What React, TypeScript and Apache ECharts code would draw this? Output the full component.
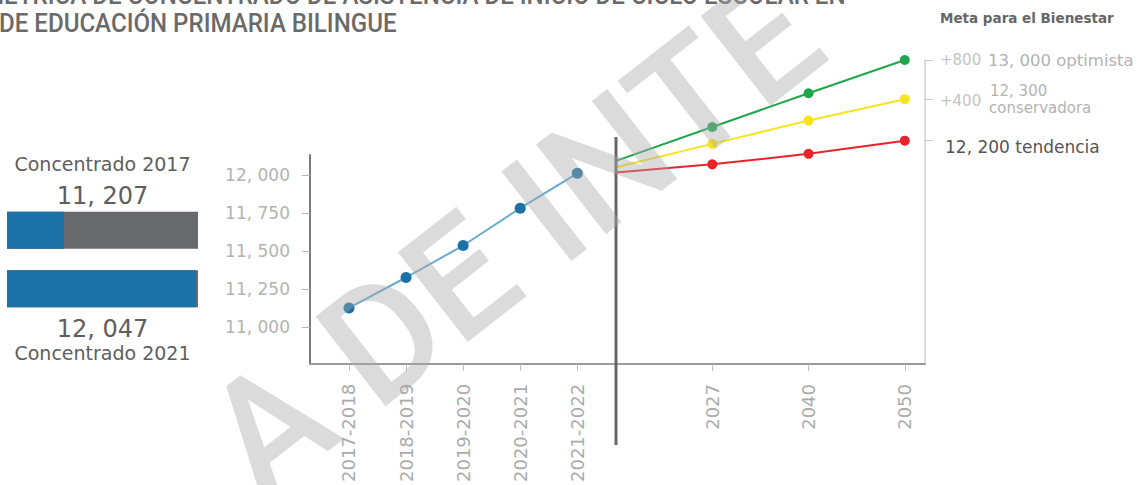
import React, { useEffect, useRef } from "react";
import * as echarts from "echarts";

// ---------- data ----------
const titleLines = [
  "MÉTRICA DE CONCENTRADO DE ASISTENCIA DE INICIO DE CICLO ESCOLAR EN",
  "DE EDUCACIÓN PRIMARIA BILINGUE",
];
const headerText = "Meta para el Bienestar";
const watermarkText = "A DE INTE";

const histCategories = ["2017-2018", "2018-2019", "2019-2020", "2020-2021", "2021-2022"];
const histValues = [11127, 11327, 11537, 11782, 12011];

// index 0 = start at the divider, then 2027, 2040, 2050
const projCategories = ["", "2027", "2040", "2050"];
const optimista = [12092, 12314, 12535, 12753];
const conservadora = [12050, 12203, 12356, 12496];
const tendencia = [12015, 12069, 12138, 12224];

const yTicks = [11000, 11250, 11500, 11750, 12000];

const concentradoLabels = ["Concentrado 2017", "Concentrado 2021"];
const concentradoValues = [11207, 12047];

const metaDeltas = ["+800", "+400", ""];
const metaValues = ["13, 000", "12, 300", "12, 200"];
const metaNames = ["optimista", "conservadora", "tendencia"];

// ---------- helpers ----------
const fmt = (n: number) => n.toLocaleString("en-US").replace(/,/g, ", ");
const FONT = "DejaVu Sans";
const BLUE = "#1a72a6";
const GREEN = "#1fa64c";
const YELLOW = "#f7e51c";
const RED = "#e8232c";

const projLine = (name: string, arr: number[], color: string) => ({
  name,
  type: "line",
  xAxisIndex: 1,
  yAxisIndex: 1,
  data: arr.map((v, i) => (i === 0 ? { value: [0, v], symbol: "none" } : { value: [i, v] })),
  symbol: "circle",
  symbolSize: 10,
  lineStyle: { color, width: 2 },
  itemStyle: { color },
  z: 3,
});

export default function App() {
  const ref = useRef<HTMLDivElement>(null);

  useEffect(() => {
    if (!ref.current) return;
    const chart = echarts.init(ref.current, undefined, { renderer: "svg" });

    const xLabel = {
      rotate: 90,
      margin: 20,
      color: "#ababab",
      fontSize: 18,
      fontFamily: FONT,
    };

    const option: any = {
      animation: false,
      backgroundColor: "#ffffff",
      grid: [
        { left: 310, top: 155, width: 306, height: 209 },
        { left: 616, top: 60, width: 309, height: 304 },
        { left: 7, top: 201, width: 191, height: 117 },
      ],
      xAxis: [
        {
          type: "value",
          gridIndex: 0,
          min: -0.683,
          max: 4.678,
          splitLine: { show: false },
          axisLine: { show: true, onZero: false, lineStyle: { color: "#9a9a9a", width: 2 } },
          axisTick: { show: true, customValues: [0, 1, 2, 3, 4], length: 7, lineStyle: { color: "#bdbdbd" } },
          axisLabel: {
            ...xLabel,
            customValues: [0, 1, 2, 3, 4],
            formatter: (v: number) => histCategories[Math.round(v)],
          },
        },
        {
          type: "value",
          gridIndex: 1,
          min: 0,
          max: 3.21,
          splitLine: { show: false },
          axisLine: { show: true, onZero: false, lineStyle: { color: "#9a9a9a", width: 2 } },
          axisTick: { show: true, customValues: [1, 2, 3], length: 7, lineStyle: { color: "#bdbdbd" } },
          axisLabel: {
            ...xLabel,
            customValues: [1, 2, 3],
            formatter: (v: number) => projCategories[Math.round(v)],
          },
        },
        { type: "value", gridIndex: 2, min: 10845, max: 12060, show: false },
      ],
      yAxis: [
        {
          type: "value",
          gridIndex: 0,
          min: 10760,
          max: 12131,
          splitLine: { show: false },
          axisLine: { show: true, onZero: false, lineStyle: { color: "#7a7a7a", width: 2 } },
          axisTick: { show: true, customValues: yTicks, length: 8, lineStyle: { color: "#b5b5b5" } },
          axisLabel: {
            customValues: yTicks,
            formatter: (v: number) => fmt(v),
            color: "#b3b3b3",
            fontSize: 17,
            fontFamily: FONT,
            margin: 20,
          },
        },
        {
          type: "value",
          gridIndex: 1,
          min: 10760,
          max: 12753,
          position: "right",
          splitLine: { show: false },
          axisLine: { show: true, onZero: false, lineStyle: { color: "#d0d0d0", width: 1.5 } },
          axisTick: {
            show: true,
            customValues: [optimista[3], conservadora[3], tendencia[3]],
            length: 8,
            lineStyle: { color: "#c8c8c8" },
          },
          axisLabel: { show: false },
        },
        {
          type: "category",
          gridIndex: 2,
          data: concentradoLabels,
          inverse: true,
          show: false,
        },
      ],
      series: [
        {
          name: "Histórico",
          type: "line",
          xAxisIndex: 0,
          yAxisIndex: 0,
          data: histValues.map((v, i) => [i, v]),
          symbol: "circle",
          symbolSize: 11,
          lineStyle: { color: "#66a9d4", width: 2 },
          itemStyle: { color: BLUE },
          z: 3,
        },
        projLine("optimista", optimista, GREEN),
        projLine("conservadora", conservadora, YELLOW),
        projLine("tendencia", tendencia, RED),
        {
          name: "Concentrado",
          type: "bar",
          xAxisIndex: 2,
          yAxisIndex: 2,
          data: concentradoValues,
          barWidth: 37,
          itemStyle: { color: BLUE },
          showBackground: true,
          backgroundStyle: { color: "#68696d" },
        },
      ],
    };
    chart.setOption(option);

    // positions of annotations derived from the chart's own scales
    const rightX = chart.convertToPixel({ xAxisIndex: 1 }, 3.21) as number;
    const divX = chart.convertToPixel({ xAxisIndex: 1 }, 0) as number;
    const ends = [optimista[3], conservadora[3], tendencia[3]];
    const endY = ends.map((v) => chart.convertToPixel({ yAxisIndex: 1 }, v) as number);
    const barCx = 7 + 191 / 2;

    const lightTxt = (text: string, x: number, y: number, size: number, color: string) => ({
      type: "text",
      x,
      y,
      style: { text, fontSize: size, fontFamily: FONT, fill: color, align: "left", verticalAlign: "middle" },
    });
    const centerTxt = (text: string, y: number, size: number) => ({
      type: "text",
      x: barCx,
      y,
      style: { text, fontSize: size, fontFamily: FONT, fill: "#5e5e5e", align: "center", verticalAlign: "middle" },
    });

    const graphics: any[] = [
      // title (first line cut by the top edge, as in the source)
      {
        type: "text",
        x: -17,
        y: -5,
        scaleX: 0.927,
        style: { text: titleLines[0], fontSize: 26, fontWeight: 500, fontFamily: "Roboto", fill: "#6a6a6a", align: "left", verticalAlign: "middle" },
      },
      {
        type: "text",
        x: -1,
        y: 23,
        scaleX: 0.927,
        style: { text: titleLines[1], fontSize: 26, fontWeight: 500, fontFamily: "Roboto", fill: "#6a6a6a", align: "left", verticalAlign: "middle" },
      },
      {
        type: "text",
        x: 940,
        y: 18,
        style: { text: headerText, fontSize: 13.5, fontWeight: "bold", fontFamily: FONT, fill: "#666666", align: "left", verticalAlign: "middle" },
      },
      // left panel
      centerTxt(concentradoLabels[0], 164, 19),
      centerTxt(fmt(concentradoValues[0]), 196, 24),
      centerTxt(fmt(concentradoValues[1]), 329, 24),
      centerTxt(concentradoLabels[1], 353, 19),
      // divider
      {
        type: "line",
        shape: { x1: divX, y1: 137, x2: divX, y2: 445 },
        style: { stroke: "#666666", lineWidth: 3 },
        z: 10,
      },
      // right annotations
      lightTxt(metaDeltas[0], rightX + 15, endY[0], 15, "#c4c4c4"),
      lightTxt(metaValues[0] + " " + metaNames[0], rightX + 63, endY[0], 16.5, "#b3b3b3"),
      lightTxt(metaDeltas[1], rightX + 15, endY[1] + 2, 15, "#c4c4c4"),
      lightTxt(metaValues[1], rightX + 65, endY[1] - 8, 15, "#b3b3b3"),
      lightTxt(metaNames[1], rightX + 64, endY[1] + 8.5, 15, "#b3b3b3"),
      lightTxt(metaValues[2] + " " + metaNames[2], rightX + 20, endY[2] + 6, 17, "#555555"),
      // watermark
      {
        type: "text",
        x: 228,
        y: 460,
        rotation: 0.663,
        z: 100,
        style: {
          text: watermarkText,
          fontSize: 160,
          fontWeight: 500,
          fontFamily: "Roboto",
          fill: "rgba(170,170,170,0.42)",
          align: "left",
          verticalAlign: "middle",
        },
      },
    ];
    chart.setOption({ graphic: graphics });

    return () => chart.dispose();
  }, []);

  return (
    <div
      ref={ref}
      style={{ position: "absolute", left: 0, top: 0, width: 1148, height: 485, background: "#fff" }}
    />
  );
}
